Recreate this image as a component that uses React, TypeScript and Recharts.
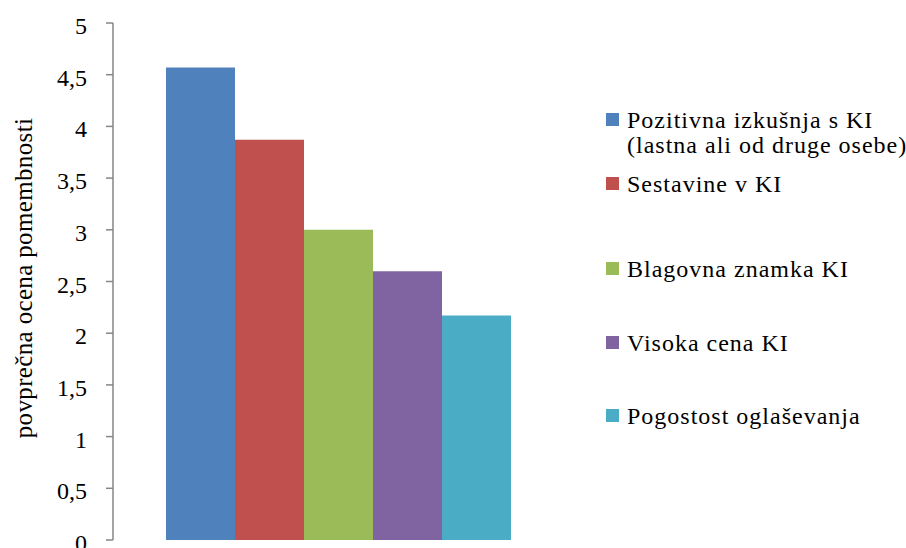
import React from 'react';
import { BarChart, Bar, XAxis, YAxis, Legend } from 'recharts';

const categories = [''];
const seriesNames = [
  'Pozitivna izkušnja s KI (lastna ali od druge osebe)',
  'Sestavine v KI',
  'Blagovna znamka KI',
  'Visoka cena KI',
  'Pogostost oglaševanja',
];
const legendLines = [
  ['Pozitivna izkušnja s KI', '(lastna ali od druge osebe)'],
  ['Sestavine v KI'],
  ['Blagovna znamka KI'],
  ['Visoka cena KI'],
  ['Pogostost oglaševanja'],
];
const seriesValues = [4.57, 3.87, 3.0, 2.6, 2.17];
const seriesColors = ['#4F81BD', '#C0504D', '#9BBB59', '#8064A2', '#4BACC6'];
const yTicks = [0, 0.5, 1, 1.5, 2, 2.5, 3, 3.5, 4, 4.5, 5];
const yLabel = 'povprečna ocena pomembnosti';

const data = categories.map((c) => {
  const row: Record<string, any> = { name: c };
  seriesNames.forEach((s, i) => {
    row['s' + i] = seriesValues[i];
  });
  return row;
});

const FONT = "'Liberation Serif', 'Times New Roman', Times, serif";
const legendBaselines = [129, 193, 278, 352, 425];

const YTick = (props: any) => {
  const { x, y, payload } = props;
  return (
    <text x={x} y={y + 11} textAnchor="end" style={{ fontFamily: FONT }} fontSize={24} fill="#000">
      {String(payload.value).replace('.', ',')}
    </text>
  );
};

const LegendContent = () => (
  <div style={{ position: 'relative', width: 300, height: 548, fontFamily: FONT, fontSize: 24, letterSpacing: 1, color: '#000' }}>
    {legendLines.map((lines, i) => (
      <React.Fragment key={i}>
        <div
          style={{
            position: 'absolute',
            left: 0,
            top: legendBaselines[i] - 16,
            width: 13,
            height: 13,
            background: seriesColors[i],
          }}
        />
        <div
          style={{
            position: 'absolute',
            left: 21,
            top: legendBaselines[i] - 21,
            lineHeight: '25px',
            whiteSpace: 'nowrap',
          }}
        >
          {lines.map((l, j) => (
            <div key={j}>{l}</div>
          ))}
        </div>
      </React.Fragment>
    ))}
  </div>
);

const YLabel = () => (
  <text
    x={32}
    y={278}
    transform="rotate(-90, 32, 278)"
    textAnchor="middle"
    style={{ fontFamily: FONT, letterSpacing: 0.35 }}
    fontSize={25}
    fill="#000"
  >
    {yLabel}
  </text>
);

export default function App() {
  return (
    <div style={{ position: 'absolute', left: 0, top: 0, width: 906, height: 548, background: '#fff' }}>
      <BarChart
        width={906}
        height={548}
        data={data}
        margin={{ top: 23, right: 341, bottom: 8, left: 0 }}
        barGap={0}
        barCategoryGap={53}
      >
        <XAxis dataKey="name" hide />
        <YAxis
          width={113}
          domain={[0, 5]}
          ticks={yTicks}
          interval={0}
          axisLine={{ stroke: '#868686', strokeWidth: 1.5 }}
          tickLine={{ stroke: '#868686', strokeWidth: 1.5 }}
          tickSize={7}
          tickMargin={19}
          tick={<YTick />}
          label={<YLabel />}
        />
        {seriesNames.map((s, i) => (
          <Bar key={s} dataKey={'s' + i} name={s} fill={seriesColors[i]} isAnimationActive={false} />
        ))}
        <Legend
          layout="horizontal"
          align="center"
          verticalAlign="middle"
          content={<LegendContent />}
          wrapperStyle={{ left: 606, top: 0, width: 300, height: 548 }}
        />
      </BarChart>
    </div>
  );
}
